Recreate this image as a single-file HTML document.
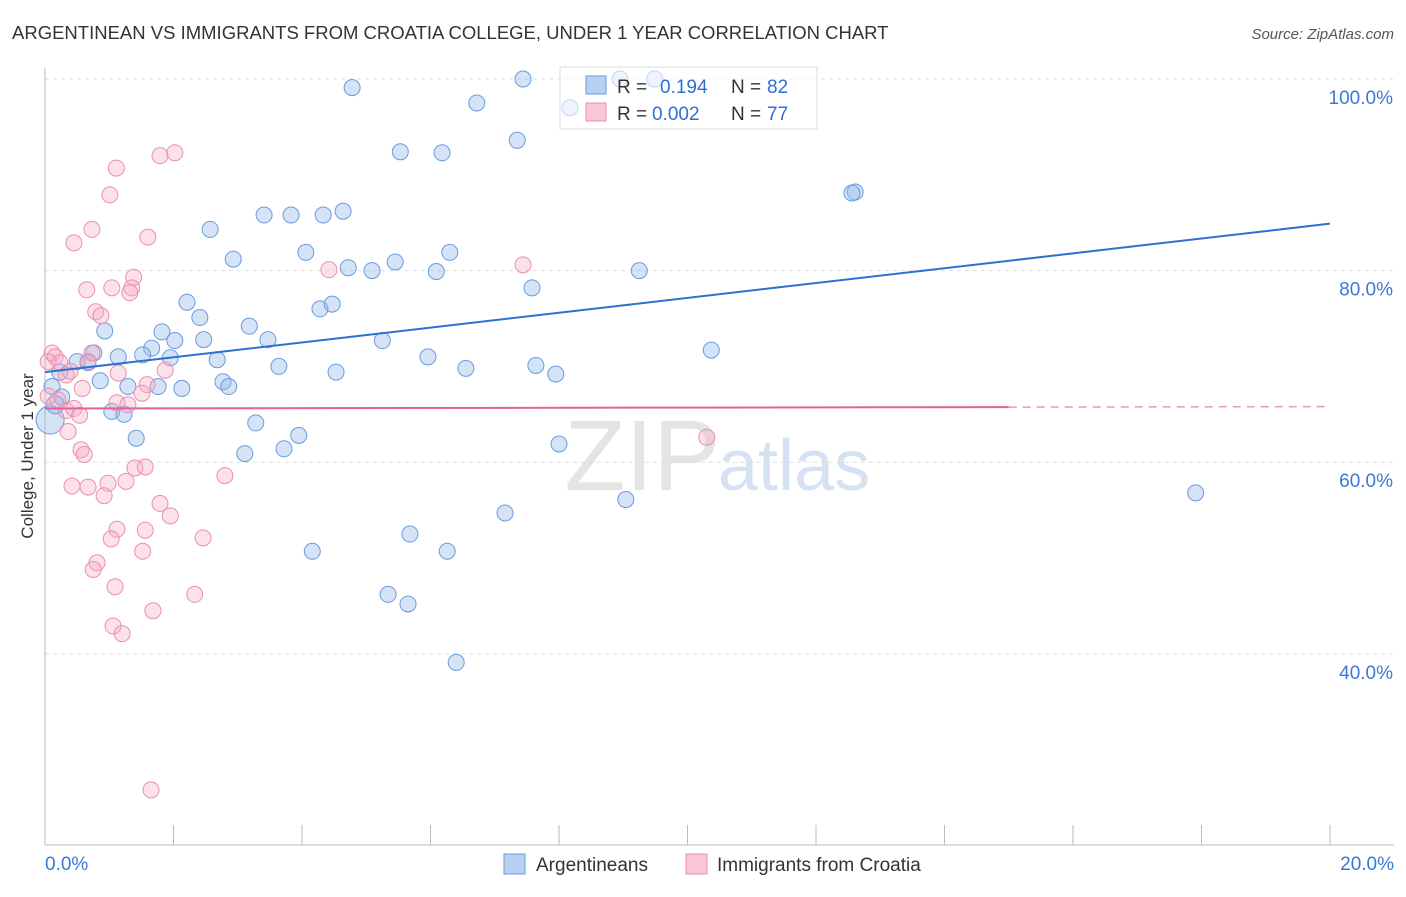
<!DOCTYPE html>
<html><head><meta charset="utf-8"><style>
body{margin:0;background:#fff;font-family:"Liberation Sans",sans-serif;}
svg text{font-family:"Liberation Sans",sans-serif;}
</style></head><body>
<svg id="chart" width="1406" height="892" xmlns="http://www.w3.org/2000/svg">
<text x="12" y="39" font-size="18.5" fill="#333">ARGENTINEAN VS IMMIGRANTS FROM CROATIA COLLEGE, UNDER 1 YEAR CORRELATION CHART</text>
<text x="1394" y="39" font-size="15" fill="#555" font-style="italic" text-anchor="end">Source: ZipAtlas.com</text>
<text x="720" y="490" font-size="100" fill="#e4e4e4" text-anchor="end" font-family="Liberation Serif">ZIP</text>
<text x="718" y="490" font-size="72" fill="#d6e2f3">atlas</text>
<g id="grid"></g><g id="axes"></g><g id="pts"></g><g id="trends"></g>
<text transform="translate(33,456) rotate(-90)" font-size="17" fill="#333" text-anchor="middle">College, Under 1 year</text>
<g>
<rect x="560" y="67" width="257" height="62" fill="rgba(255,255,255,0.6)" stroke="#ddd"/>
<rect x="586" y="76" width="20" height="18" fill="#b8d0f2" stroke="#6a9ae0"/>
<rect x="586" y="103" width="20" height="18" fill="#f8c6d6" stroke="#ea8fae"/>
<text x="617" y="93" font-size="19" fill="#333">R =</text><text x="660" y="93" font-size="19" fill="#2f6fd0">0.194</text>
<text x="731" y="93" font-size="19" fill="#333">N =</text><text x="767" y="93" font-size="19" fill="#2f6fd0">82</text>
<text x="617" y="120" font-size="19" fill="#333">R =</text><text x="652" y="120" font-size="19" fill="#2f6fd0">0.002</text>
<text x="731" y="120" font-size="19" fill="#333">N =</text><text x="767" y="120" font-size="19" fill="#2f6fd0">77</text>
</g>
<g>
<rect x="504" y="854" width="21" height="20" fill="#b8d0f2" stroke="#6a9ae0"/>
<text x="536" y="871" font-size="19" fill="#333">Argentineans</text>
<rect x="686" y="854" width="21" height="20" fill="#f8c6d6" stroke="#ea8fae"/>
<text x="717" y="871" font-size="19" fill="#333">Immigrants from Croatia</text>
</g>
</svg>
<script>
const xTickLabels=["0.0%","20.0%"];
const yTicks=[40,60,80,100];
const blueX=[4.78,7.44,6.72,7.35,5.53,6.18,9.49,8.95,8.17,12.61,12.56,2.57,3.41,3.83,4.33,4.64,2.93,4.06,4.72,5.09,5.45,6.09,6.30,9.25,7.58,2.21,2.41,4.28,4.47,3.18,0.93,1.82,2.02,2.47,3.47,5.25,1.66,1.52,1.14,1.95,2.68,5.96,10.37,0.76,0.50,0.67,3.64,4.53,6.55,7.64,7.95,0.23,0.86,2.77,2.86,1.29,1.76,2.13,0.11,0.26,1.04,1.23,3.28,1.42,3.95,3.72,3.11,8.00,9.04,17.91,7.16,5.68,4.16,6.26,5.34,5.65,6.40,0.08,0.16];
const blueY=[99.1,100,97.5,93.6,92.4,92.3,100,100,97.0,88.2,88.1,84.3,85.8,85.8,85.8,86.2,81.2,81.9,80.3,80.0,80.9,79.9,81.9,80.0,78.2,76.7,75.1,76.0,76.5,74.2,73.7,73.6,72.7,72.8,72.8,72.7,71.9,71.2,71.0,70.9,70.7,71.0,71.7,71.4,70.5,70.4,70.0,69.4,69.8,70.1,69.2,69.4,68.5,68.4,67.9,67.9,67.9,67.7,67.9,66.8,65.3,65.0,64.1,62.5,62.8,61.4,60.9,61.9,56.1,56.8,54.7,52.5,50.7,50.7,46.2,45.2,39.1,64.4,66.0];
const pinkX=[1.79,2.02,1.11,1.01,0.73,1.60,0.45,4.42,7.44,1.38,0.65,1.04,1.35,1.32,0.79,0.87,0.11,0.16,0.23,0.05,0.73,0.67,0.39,0.33,1.14,1.87,0.58,1.59,1.51,0.05,0.20,0.33,0.45,0.54,1.12,1.29,0.36,10.30,0.56,0.61,1.40,1.56,2.80,0.42,0.67,0.98,1.26,0.92,1.79,1.95,1.12,1.56,2.46,1.03,1.52,0.81,0.75,1.09,2.33,1.68,1.06,1.20,1.65];
const pinkY=[92.0,92.3,90.7,87.9,84.3,83.5,82.9,80.1,80.6,79.3,78.0,78.2,78.2,77.7,75.7,75.3,71.4,71.0,70.4,70.5,71.4,70.5,69.5,69.1,69.3,69.6,67.7,68.1,67.2,66.9,66.5,65.4,65.6,64.9,66.2,66.0,63.2,62.6,61.3,60.8,59.4,59.5,58.6,57.5,57.4,57.8,58.0,56.5,55.7,54.4,53.0,52.9,52.1,52.0,50.7,49.5,48.8,47.0,46.2,44.5,42.9,42.1,25.8];
const blueTrend=[69.4,84.9];
const pinkTrend=[65.6,65.8];
const NS="http://www.w3.org/2000/svg";
const X=v=>45+v/20*1285, Y=v=>79+(100-v)*9.58;
function mk(tag,attrs,parent){const e=document.createElementNS(NS,tag);for(const k in attrs)e.setAttribute(k,attrs[k]);document.getElementById(parent).appendChild(e);return e;}
yTicks.forEach(t=>{
 const l=mk('line',{x1:45,x2:1394,y1:Y(t),y2:Y(t),stroke:'#ddd','stroke-dasharray':'4,4'},'grid');
 
 
 const tx=mk('text',{x:1393,y:Y(t)+25,'font-size':19,fill:'#3a78d6','text-anchor':'end'},'grid');
 tx.textContent=t.toFixed(1)+'%';
 
 
});
const ax=mk('line',{x1:45,x2:45,y1:68,y2:845,stroke:'#bbb'},'axes');


const bx=mk('line',{x1:45,x2:1394,y1:845,y2:845,stroke:'#bbb'},'axes');


for(let i=0;i<=10;i++){const t=mk('line',{x1:X(i*2),x2:X(i*2),y1:825,y2:845,stroke:'#bbb'},'axes');
 
 }
[[0,'start'],[20,'end']].forEach((p,i)=>{const t=mk('text',{x:p[0]==0?45:1394,y:870,'font-size':19,fill:'#3a78d6','text-anchor':p[1]},'axes');t.textContent=xTickLabels[i];
 
 });
blueX.forEach((x,i)=>{const c=mk('circle',{cx:X(x),cy:Y(blueY[i]),r:i>=blueX.length-2?(i==blueX.length-2?14:9):8,fill:'rgba(150,185,235,0.4)',stroke:'#6a9ae0','stroke-width':1},'pts');
 
 });
pinkX.forEach((x,i)=>{const c=mk('circle',{cx:X(x),cy:Y(pinkY[i]),r:8,fill:'rgba(245,170,195,0.35)',stroke:'#ea8fae','stroke-width':1},'pts');
 
 });
const bl=mk('line',{x1:X(0),y1:Y(blueTrend[0]),x2:X(20),y2:Y(blueTrend[1]),stroke:'#2f6fd0','stroke-width':2},'trends');


const pm=pinkTrend[0]+(pinkTrend[1]-pinkTrend[0])*0.75;
const pl=mk('line',{x1:X(0),y1:Y(pinkTrend[0]),x2:X(15),y2:Y(pm),stroke:'#e0648f','stroke-width':2},'trends');


const pd=mk('line',{x1:X(15),y1:Y(pm),x2:X(20),y2:Y(pinkTrend[1]),stroke:'#e89ab5','stroke-width':1.5,'stroke-dasharray':'8,6'},'trends');


</script>
</body></html>
